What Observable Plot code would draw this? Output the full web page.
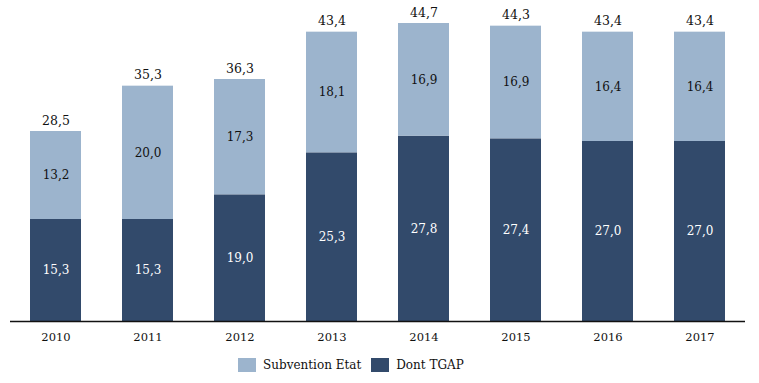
<!DOCTYPE html>
<html>
<head>
<meta charset="utf-8">
<script src="https://cdn.jsdelivr.net/npm/d3@7"></script>
<script src="https://cdn.jsdelivr.net/npm/@observablehq/plot@0.6"></script>
<style>
  html, body { margin: 0; padding: 0; background: #fff; }
  #chart { width: 759px; height: 383px; position: relative; font-family: 'DejaVu Serif', serif; }
  #chart svg text { font-family: 'DejaVu Serif', serif; }
  .legend { position: absolute; left: 238px; top: 358px; display: flex; align-items: center; font-size: 12px; color: #111; }
  .legend .sw { width: 18px; height: 14px; display: inline-block; margin-right: 7px; }
  .legend .item { display: flex; align-items: center; margin-right: 10px; }
</style>
</head>
<body>
<div id="chart"></div>
<script>
const years = ["2010", "2011", "2012", "2013", "2014", "2015", "2016", "2017"];
const dontTGAP = [15.3, 15.3, 19.0, 25.3, 27.8, 27.4, 27.0, 27.0];
const subventionEtat = [13.2, 20.0, 17.3, 18.1, 16.9, 16.9, 16.4, 16.4];
const totals = [28.5, 35.3, 36.3, 43.4, 44.7, 44.3, 43.4, 43.4];
const seriesNames = ["Subvention Etat", "Dont TGAP"];
const seriesColors = ["#9cb4cd", "#324a6b"];

const rows = [];
years.forEach((y, i) => {
  rows.push({year: y, series: "Dont TGAP", value: dontTGAP[i]});
  rows.push({year: y, series: "Subvention Etat", value: subventionEtat[i]});
});
const fmt = v => d3.format(".1f")(v).replace(".", ",");
const stackOrder = ["Dont TGAP", "Subvention Etat"];
const serif = "DejaVu Serif";

const plot = Plot.plot({
  width: 759,
  height: 350,
  marginLeft: 10,
  marginRight: 14,
  marginTop: 21,
  marginBottom: 29,
  style: {fontFamily: serif, fontSize: "12px", background: "white"},
  x: {domain: years, paddingInner: 0.446, paddingOuter: 0.2174, axis: null},
  y: {domain: [0, 45], axis: null},
  color: {domain: seriesNames, range: seriesColors},
  marks: [
    Plot.barY(rows, {x: "year", y: "value", fill: "series", order: stackOrder}),
    Plot.text(rows, Plot.stackY({
      x: "year", y: "value", z: "series", order: stackOrder,
      text: d => d.series === "Dont TGAP" ? fmt(d.value) : "",
      fill: "white", fontSize: 12, fontFamily: serif
    })),
    Plot.text(rows, Plot.stackY({
      x: "year", y: "value", z: "series", order: stackOrder,
      text: d => d.series === "Subvention Etat" ? fmt(d.value) : "",
      fill: "#111", fontSize: 12, fontFamily: serif
    })),
    Plot.text(totals, {x: (d, i) => years[i], y: d => d, text: d => fmt(d), dy: -11, fill: "#111", fontSize: 12.5, fontFamily: serif}),
    Plot.ruleY([0], {stroke: "#111", strokeWidth: 1.3}),
    Plot.text(years, {x: d => d, y: () => 0, text: d => d, dy: 16, fill: "#111", fontSize: 11.5, fontFamily: serif})
  ]
});
const chart = document.getElementById("chart");
chart.appendChild(plot);

const legend = document.createElement("div");
legend.className = "legend";
seriesNames.forEach((name, i) => {
  const item = document.createElement("span");
  item.className = "item";
  const sw = document.createElement("span");
  sw.className = "sw";
  sw.style.background = seriesColors[i];
  item.appendChild(sw);
  item.appendChild(document.createTextNode(name));
  legend.appendChild(item);
});
chart.appendChild(legend);
</script>
</body>
</html>
